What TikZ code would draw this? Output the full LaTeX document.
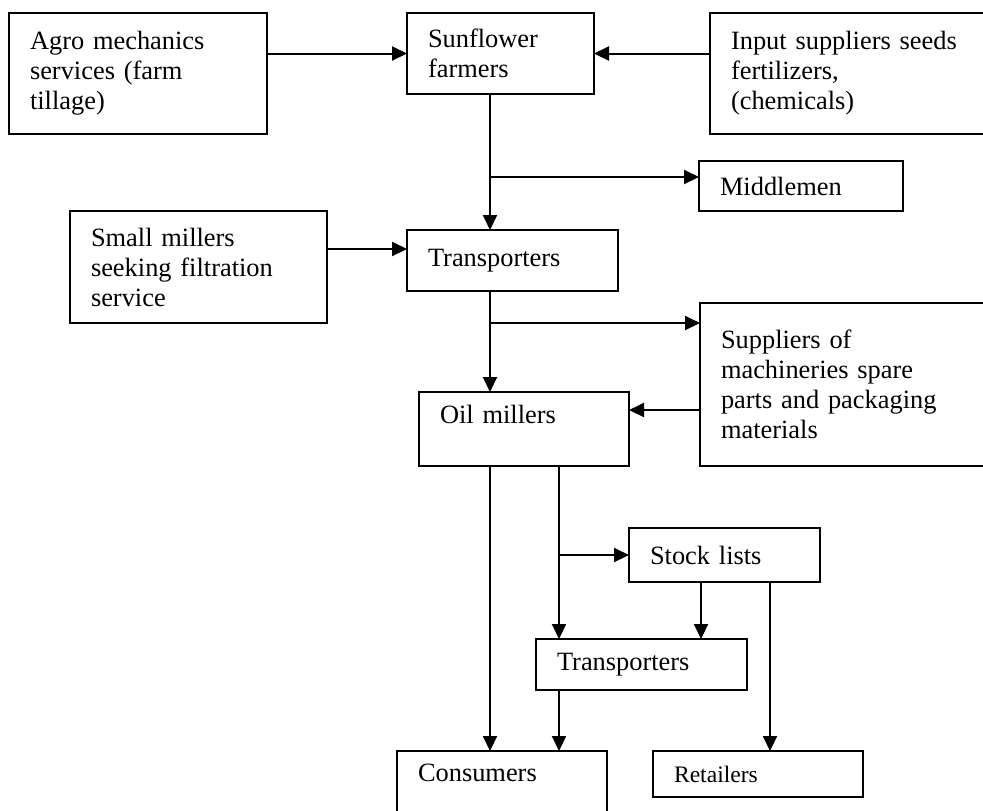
\documentclass[tikz,border=0pt]{standalone}
\usepackage{fontspec}
\setmainfont{Liberation Serif}
\usetikzlibrary{arrows.meta}

\begin{document}
\begin{tikzpicture}[x=0.5pt, y=-0.5pt,
  box/.style={draw, line width=1pt, anchor=north west, align=left, inner xsep=10.5pt, outer sep=0pt,
    font=\fontsize{13.2pt}{15pt}\selectfont},
  arr/.style={-{Triangle[length=7.5pt, width=7pt]}, line width=1pt}]
\useasboundingbox (0,0) rectangle (983,810);
\clip (0,0) rectangle (983,810);

% --- top row: farmers and their suppliers ---
\node[box, text width=108pt, minimum height=60.5pt] (agro) at (9,13)
  {Agro mechanics\\services (farm\\tillage)};
\node[box, text width=72.5pt, minimum height=40.5pt] (sun) at (407,13)
  {Sunflower\\farmers};
\node[box, text width=129pt, minimum height=60.5pt] (input) at (710,13)
  {Input suppliers seeds\\fertilizers,\\(chemicals)};
\node[box, text width=81pt, minimum height=25pt] (mid) at (699,161) {Middlemen};

% --- transport and milling ---
\node[box, text width=107.5pt, minimum height=56pt] (small) at (70,211)
  {Small millers\\seeking filtration\\service};
\node[box, text width=84.5pt, minimum height=30.5pt] (trA) at (407,230) {Transporters};
\node[box, text width=134pt, minimum height=81.5pt] (supp) at (700,303)
  {Suppliers of\\machineries spare\\parts and packaging\\materials};
\node[box, text width=84pt, minimum height=37pt] (oil) at (419,392) {Oil millers\\\mbox{}};

% --- distribution ---
\node[box, text width=74.5pt, minimum height=27pt] (stock) at (629,528) {Stock lists};
\node[box, text width=84.5pt, minimum height=25.5pt] (trB) at (536,639) {Transporters};
\node[box, text width=84pt, minimum height=37pt] (cons) at (397,751) {Consumers\\\mbox{}};
\node[box, text width=84pt, minimum height=23pt, font=\fontsize{11.8pt}{14pt}\selectfont]
  (ret) at (653,751) {Retailers};

% columns and rows the connectors run along
\coordinate (colA) at (490,0);
\coordinate (colB) at (559,0);
\coordinate (colC) at (701,0);
\coordinate (colD) at (770,0);
\coordinate (rowM) at (0,177);
\coordinate (rowS) at (0,249);
\coordinate (rowP) at (0,323);
\coordinate (rowO) at (0,410);
\coordinate (rowK) at (0,555);

\draw[arr] (sun.west -| agro.east) -- (sun.west);
\draw[arr] (sun.east -| input.west) -- (sun.east);
\draw[arr] (sun.south -| colA) -- (trA.north -| colA);
\draw[arr] (rowM -| colA) -- (rowM -| mid.west);
\draw[arr] (rowS -| small.east) -- (rowS -| trA.west);
\draw[arr] (trA.south -| colA) -- (oil.north -| colA);
\draw[arr] (rowP -| colA) -- (rowP -| supp.west);
\draw[arr] (rowO -| supp.west) -- (rowO -| oil.east);
\draw[arr] (oil.south -| colA) -- (cons.north -| colA);
\draw[arr] (oil.south -| colB) -- (trB.north -| colB);
\draw[arr] (rowK -| colB) -- (rowK -| stock.west);
\draw[arr] (stock.south -| colC) -- (trB.north -| colC);
\draw[arr] (stock.south -| colD) -- (ret.north -| colD);
\draw[arr] (trB.south -| colB) -- (cons.north -| colB);
\end{tikzpicture}
\end{document}
